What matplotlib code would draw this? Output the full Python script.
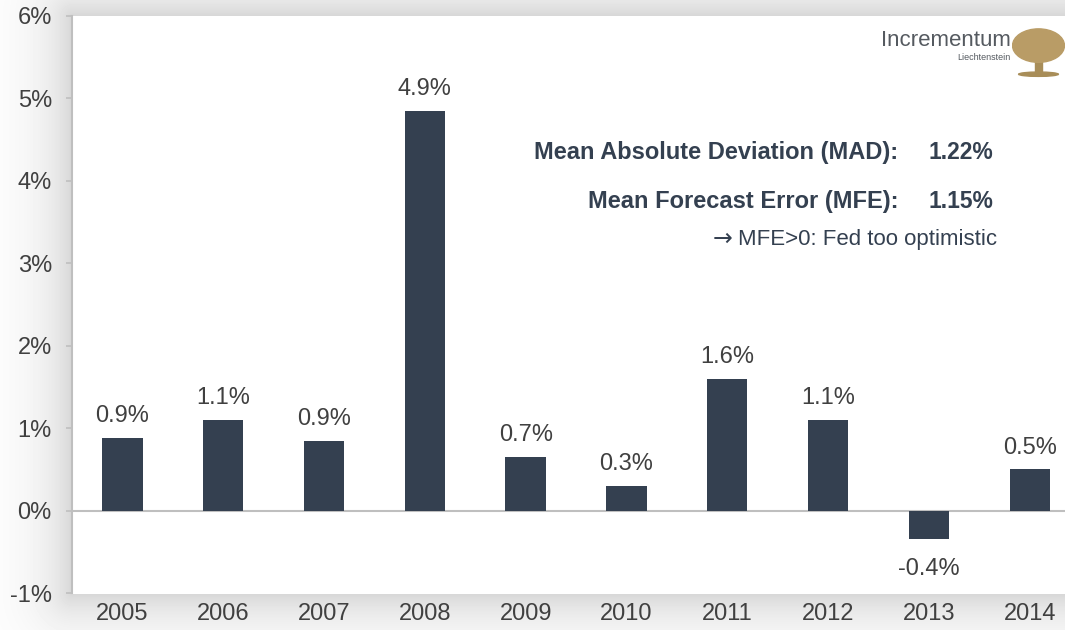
import numpy as np
import matplotlib.pyplot as plt
from matplotlib.patches import Ellipse, Rectangle

plt.rcParams['font.family'] = ['Liberation Sans', 'DejaVu Sans']

years = ['2005', '2006', '2007', '2008', '2009', '2010', '2011', '2012', '2013', '2014']
errors = [0.88, 1.10, 0.85, 4.85, 0.65, 0.30, 1.60, 1.10, -0.35, 0.50]
labels = ['0.9%', '1.1%', '0.9%', '4.9%', '0.7%', '0.3%', '1.6%', '1.1%', '-0.4%', '0.5%']
yticks = [-1, 0, 1, 2, 3, 4, 5, 6]

bar_color = '#344050'
text_color = '#404040'
W, H = 1065, 630
ax_l, ax_t, ax_b = 72, 16, 593

fig = plt.figure(figsize=(10.65, 6.3), dpi=100)

# soft shadow around the plot area
bg = fig.add_axes([0, 0, 1, 1])
xx, yy = np.meshgrid(np.arange(W), np.arange(H))
dx = np.maximum(ax_l - xx, 0)
dy = np.maximum(np.maximum(ax_t - yy, yy - ax_b), 0)
d = np.hypot(dx, dy)
shade = 1 - 0.16 * np.exp(-d / 30.0)
shade[(d == 0)] = 1.0
bg.imshow(shade, cmap='gray', vmin=0, vmax=1, aspect='auto', interpolation='bilinear')
bg.axis('off')

ax = fig.add_axes([ax_l / W, 1 - ax_b / H, 1 - ax_l / W, (ax_b - ax_t) / H])
ax.set_facecolor('white')
x = np.arange(len(years))
ax.bar(x, errors, width=0.4, color=bar_color, zorder=3)
ax.axhline(0, color='#bfbfbf', lw=1.5, zorder=2)

for xi, v, lab in zip(x, errors, labels):
    if v >= 0:
        ax.text(xi, v + 0.19, lab, ha='center', va='baseline', fontsize=17, color=text_color)
    else:
        ax.text(xi, v - 0.23, lab, ha='center', va='top', fontsize=17, color=text_color)

ax.set_xlim(-0.5, 9.35)
ax.set_ylim(-1, 6)
ax.set_yticks(yticks)
ax.set_yticklabels([f'{t}%' for t in yticks], fontsize=17, color=text_color)
ax.set_xticks(x)
ax.set_xticklabels(years, fontsize=17, color=text_color)
ax.tick_params(axis='x', length=0, pad=7)
ax.tick_params(axis='y', length=4.5, width=1.2, color='#bfbfbf', pad=10)
for s in ['top', 'right', 'bottom']:
    ax.spines[s].set_visible(False)
ax.spines['left'].set_color('#bfbfbf')
ax.spines['left'].set_linewidth(1.5)

# statistics box
ax.text(0.832, 0.763, 'Mean Absolute Deviation (MAD):', transform=ax.transAxes, ha='right',
        va='center', fontsize=17, fontweight='bold', color=bar_color)
ax.text(0.9275, 0.763, '1.22%', transform=ax.transAxes, ha='right', va='center',
        fontsize=16.5, fontweight='bold', color=bar_color)
ax.text(0.832, 0.678, 'Mean Forecast Error (MFE):', transform=ax.transAxes, ha='right',
        va='center', fontsize=17, fontweight='bold', color=bar_color)
ax.text(0.9275, 0.678, '1.15%', transform=ax.transAxes, ha='right', va='center',
        fontsize=16.5, fontweight='bold', color=bar_color)
note = ax.text(0.932, 0.612, 'MFE>0: Fed too optimistic', transform=ax.transAxes, ha='right',
               va='center', fontsize=16, color=bar_color)
ax.annotate('\u2192', xy=(0, 0.5), xycoords=note, xytext=(-4, 1), textcoords='offset points',
            ha='right', va='center', fontsize=17, color=bar_color, family='DejaVu Sans')

# logo
fig.text(1011 / W, 1 - 40 / H, 'Incrementum', ha='right', va='center', fontsize=16,
         color='#555a60')
fig.text(1010 / W, 1 - 58 / H, 'Liechtenstein', ha='right', va='center', fontsize=6.5,
         color='#555a60')
logo = fig.add_axes([1012 / W, 1 - 78 / H, 53 / W, 54 / H])
logo.set_xlim(0, 1)
logo.set_ylim(0, 1)
logo.axis('off')
logo.add_patch(Rectangle((0.44, 0.05), 0.12, 0.4, color='#a88d58'))
logo.add_patch(Ellipse((0.5, 0.6), 0.98, 0.62, color='#b99c66'))
logo.add_patch(Ellipse((0.5, 0.07), 0.75, 0.08, color='#a88d58'))

fig.savefig('out.png', dpi=100)
